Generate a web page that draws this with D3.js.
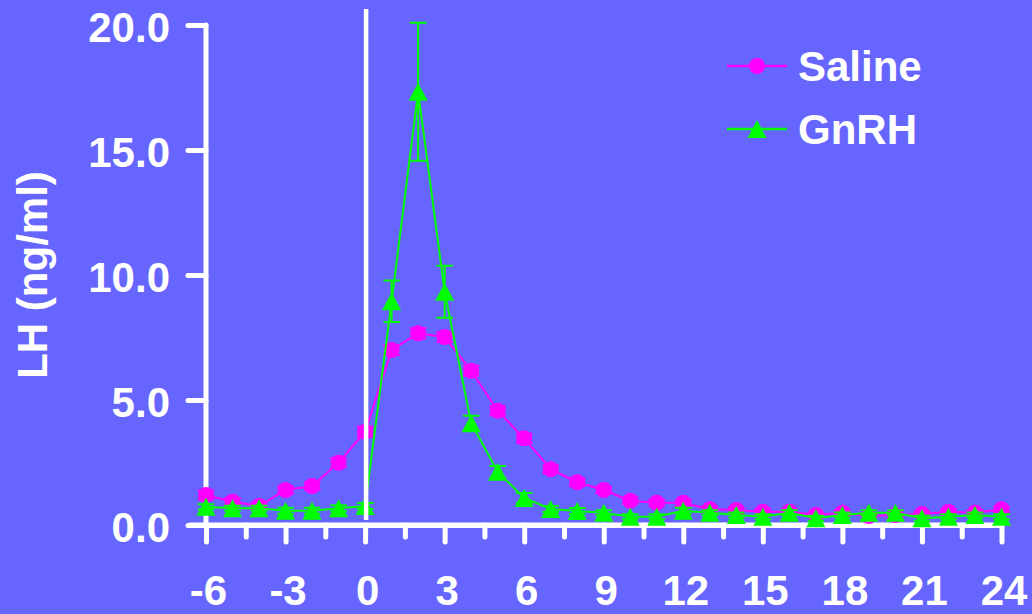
<!DOCTYPE html>
<html>
<head>
<meta charset="utf-8">
<script src="https://cdn.jsdelivr.net/npm/d3@7"></script>
<style>
  html, body { margin: 0; padding: 0; background: #6666FF; }
  svg { display: block; }
  text { font-family: "Liberation Sans", Arial, sans-serif; font-weight: bold; fill: #ffffff; }
</style>
</head>
<body>
<svg id="chart" width="1032" height="614"></svg>
<script>
// ---- data ----
const hours = [-6,-5,-4,-3,-2,-1,0,1,2,3,4,5,6,7,8,9,10,11,12,13,14,15,16,17,18,19,20,21,22,23,24];
const salineLH = [1.2,0.93,0.76,1.4,1.56,2.49,3.73,7.0,7.67,7.52,6.17,4.57,3.47,2.23,1.71,1.4,0.97,0.89,0.89,0.63,0.6,0.53,0.53,0.4,0.49,0.36,0.4,0.44,0.53,0.49,0.63];
const salineSE = [0.18,0.15,0.12,0.15,0.15,0.18,0.2,0.2,0.2,0.2,0.2,0.18,0.18,0.15,0.15,0.12,0.12,0.12,0.12,0.1,0.1,0.1,0.1,0.1,0.1,0.1,0.1,0.1,0.1,0.1,0.1];
const gnrhLH = [0.73,0.67,0.67,0.57,0.57,0.67,0.76,8.95,17.33,9.33,4.07,2.13,1.08,0.64,0.56,0.49,0.33,0.33,0.57,0.49,0.4,0.33,0.49,0.27,0.4,0.49,0.49,0.27,0.33,0.4,0.33];
const gnrhSE = [0.1,0.1,0.1,0.12,0.12,0.12,0.12,0.83,2.76,1.04,0.3,0.23,0.2,0.12,0.12,0.1,0.1,0.1,0.12,0.1,0.1,0.1,0.1,0.1,0.1,0.1,0.1,0.1,0.1,0.1,0.1];
const xMajorTicks = [-6,-3,0,3,6,9,12,15,18,21,24];
const xMinorTicks = [-4.5,-1.5,1.5,4.5,7.5,10.5,13.5,16.5,19.5,22.5];
const yTicks = [0,5,10,15,20];
const seriesNames = ["Saline","GnRH"];
const seriesColors = ["#FF00FF","#00FF00"];
const yTitle = "LH (ng/ml)";

// ---- scales ----
const svg = d3.select("#chart");
const x = d3.scaleLinear().domain([-6,24]).range([206,1001.5]);
const y = d3.scaleLinear().domain([0,20]).range([525,25]);

const fontSize = 42;

// ---- axes ----
const axisStroke = 5;
const gy = svg.append("g").attr("transform", `translate(${x(-6)},0)`)
  .call(d3.axisLeft(y).tickValues(yTicks).tickSize(18).tickSizeOuter(0).tickFormat(d => d.toFixed(1)));
const gxMinor = svg.append("g").attr("transform", `translate(0,${y(0)})`)
  .call(d3.axisBottom(x).tickValues(xMinorTicks).tickSize(12).tickSizeOuter(0).tickFormat(""));
const gx = svg.append("g").attr("transform", `translate(0,${y(0)})`)
  .call(d3.axisBottom(x).tickValues(xMajorTicks).tickSize(17).tickSizeOuter(0).tickFormat(d => String(d)));

[gy, gx, gxMinor].forEach(g => {
  g.select(".domain").attr("stroke", "#fff").attr("stroke-width", axisStroke).attr("stroke-linecap", "round").attr("fill","none");
  g.selectAll(".tick line").attr("stroke", "#fff").attr("stroke-width", axisStroke).attr("stroke-linecap", "round");
  g.selectAll(".tick text").attr("fill", "#fff").attr("font-size", fontSize)
    .attr("font-family", '"Liberation Sans", Arial, sans-serif').attr("font-weight", "bold");
});
// extend x axis domain to the left to meet the 0.0 tick
gx.select(".domain").attr("d", `M${x(-6)-16},0H${x(24)}`);
gy.select(".domain").attr("d", `M0,${y(20)}V${y(0)}`);
gy.selectAll(".tick text").attr("x", -36).attr("dy", "0.4em");
gx.selectAll(".tick text").attr("y", 80).attr("dy", 0).attr("dx", 2);

// ---- y title ----
svg.append("text")
  .attr("transform", `translate(47,275) rotate(-90)`)
  .attr("text-anchor", "middle")
  .attr("font-size", fontSize)
  .text(yTitle);

// ---- series ----
const triangle = { draw(ctx, size) { ctx.moveTo(0,-9); ctx.lineTo(9.5,9); ctx.lineTo(-9.5,9); ctx.closePath(); } };
const series = [
  { name: seriesNames[0], color: seriesColors[0], vals: salineLH, se: salineSE, sym: d3.symbolCircle, size: Math.PI*64 },
  { name: seriesNames[1], color: seriesColors[1], vals: gnrhLH, se: gnrhSE, sym: triangle, size: 1 }
];
const line = d3.line().x(d => x(d.t)).y(d => y(d.v));
const capW = 8.3;

series.forEach(s => {
  const pts = hours.map((t,i) => ({t, v: s.vals[i], e: s.se[i]}));
  const g = svg.append("g");
  g.append("path").datum(pts).attr("d", line).attr("fill","none").attr("stroke", s.color).attr("stroke-width", 2);
  const eb = g.append("g").selectAll("g").data(pts).join("g");
  eb.append("line").attr("x1", d => x(d.t)).attr("x2", d => x(d.t))
    .attr("y1", d => y(d.v - d.e)).attr("y2", d => y(d.v + d.e)).attr("stroke", s.color).attr("stroke-width", 2);
  eb.append("line").attr("x1", d => x(d.t)-capW).attr("x2", d => x(d.t)+capW)
    .attr("y1", d => y(d.v + d.e)).attr("y2", d => y(d.v + d.e)).attr("stroke", s.color).attr("stroke-width", 2);
  eb.append("line").attr("x1", d => x(d.t)-capW).attr("x2", d => x(d.t)+capW)
    .attr("y1", d => y(d.v - d.e)).attr("y2", d => y(d.v - d.e)).attr("stroke", s.color).attr("stroke-width", 2);
  g.append("g").selectAll("path").data(pts).join("path")
    .attr("transform", d => `translate(${x(d.t)},${y(d.v)})`)
    .attr("d", d3.symbol().type(s.sym).size(s.size)())
    .attr("fill", s.color);
});

// ---- injection marker at time 0 ----
svg.append("line").attr("x1", x(0)+1).attr("x2", x(0)+1).attr("y1", 9).attr("y2", 520)
  .attr("stroke", "#fff").attr("stroke-width", 4.5);

// ---- legend ----
const leg = svg.append("g");
series.forEach((s, i) => {
  const ly = 66 + i * 63;
  leg.append("line").attr("x1", 727).attr("x2", 787).attr("y1", ly).attr("y2", ly)
    .attr("stroke", s.color).attr("stroke-width", 2.5);
  leg.append("path").attr("transform", `translate(757,${ly})`)
    .attr("d", d3.symbol().type(s.sym).size(s.size)()).attr("fill", s.color);
  leg.append("text").attr("x", 798).attr("y", ly + 15).attr("font-size", fontSize).text(s.name);
});
</script>
</body>
</html>
